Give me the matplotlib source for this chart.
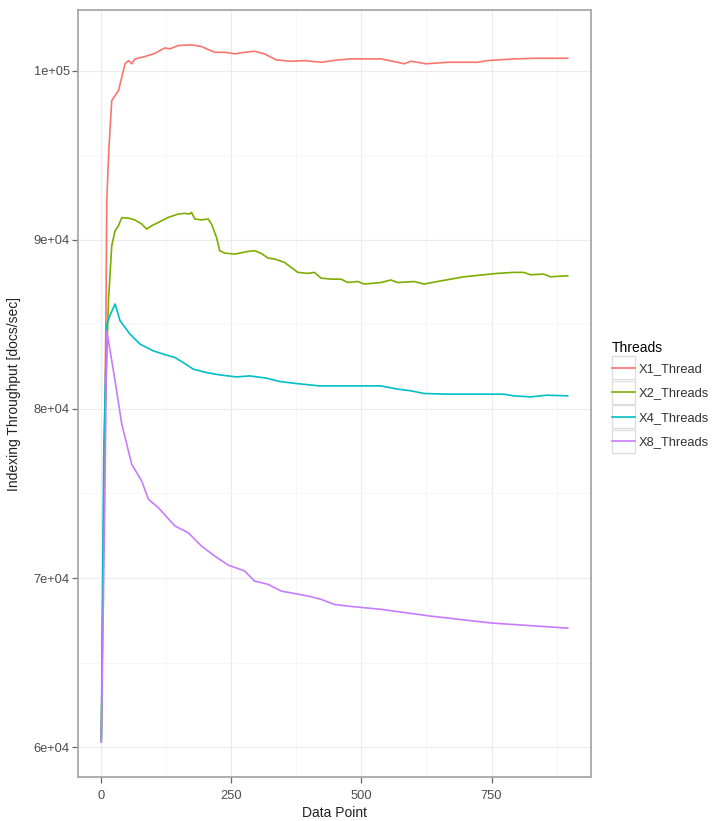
import matplotlib
matplotlib.use("Agg")
import matplotlib.pyplot as plt
from matplotlib.lines import Line2D
from matplotlib.patches import Rectangle
from matplotlib.legend_handler import HandlerLine2D

plt.rcParams["font.family"] = ["Liberation Sans", "DejaVu Sans"]

# values
x1_x = [1, 5, 10, 11.5, 15.3, 21, 34, 46.5, 53, 59.3, 65.6, 84.8, 103.9, 123, 132.6,
        148.6, 174, 193.2, 218.7, 237.8, 257, 276, 295, 314, 336.7, 365.4, 390.9,
        422.8, 454.8, 480, 537.6, 569.5, 582, 595, 607.8, 623.7, 665, 722.6, 741.7,
        792.6, 837.4, 896]
x1_y = [60300, 72000, 86000, 92300, 95270, 98225, 98820, 100400, 100590, 100400,
        100690, 100830, 101020, 101340, 101280, 101480, 101520, 101420, 101080,
        101080, 100990, 101080, 101140, 100990, 100630, 100550, 100590, 100490,
        100630, 100690, 100690, 100490, 100400, 100550, 100490, 100400, 100490,
        100490, 100590, 100690, 100730, 100730]

x2_x = [1, 7.7, 14.7, 21, 27.4, 33.9, 40.2, 53, 65.6, 78.4, 88, 97.6, 110.4, 129.5,
        148.6, 161.3, 170.8, 174, 180.4, 193.2, 206, 212.4, 222, 228.2, 237.8, 257,
        282.6, 295.2, 308, 320.8, 333.5, 352.6, 365.4, 378.2, 397.4, 410, 422.8, 442,
        461, 474, 493, 505.6, 537.6, 556.7, 569.5, 601.3, 620.4, 646, 671.5, 697,
        729, 760.9, 792.6, 811.8, 824.6, 850, 862.8, 896]
x2_y = [60500, 79300, 86390, 89650, 90530, 90830, 91300, 91280, 91170, 90930, 90630,
        90830, 91020, 91320, 91520, 91560, 91520, 91620, 91230, 91170, 91230, 90930,
        90140, 89350, 89210, 89150, 89310, 89350, 89190, 88920, 88860, 88660, 88360,
        88070, 88010, 88070, 87730, 87670, 87670, 87470, 87530, 87380, 87470, 87620,
        87470, 87530, 87380, 87530, 87670, 87810, 87910, 88010, 88070, 88070, 87930,
        87970, 87810, 87870]

x4_x = [1, 5.7, 11.5, 17.2, 27.4, 36.9, 56, 75.2, 100.8, 120, 142.1, 158.2, 177.3,
        202.8, 228.2, 260.2, 285.6, 317.6, 343, 375, 419.6, 473.9, 537.6, 569.5, 595,
        620.4, 665.2, 729, 773.5, 792.6, 824.6, 856.5, 896]
x4_y = [60400, 77500, 85010, 85500, 86200, 85210, 84420, 83830, 83430, 83240, 83040,
        82740, 82350, 82150, 82010, 81890, 81950, 81820, 81620, 81500, 81360, 81360,
        81360, 81170, 81070, 80910, 80870, 80870, 80870, 80770, 80710, 80810, 80770]

x8_x = [1, 7.7, 11.5, 27.4, 40.2, 59.3, 78.4, 91.3, 110.4, 142.1, 167.8, 193.2, 218.7,
        244.3, 276, 295.2, 320.8, 346.3, 397.4, 422.8, 448.3, 474, 537.6, 633.2, 750,
        896]
x8_y = [60300, 74600, 84620, 81660, 79100, 76730, 75740, 74660, 74160, 73080, 72680,
        71890, 71300, 70770, 70420, 69820, 69630, 69230, 68940, 68740, 68440, 68340,
        68150, 67750, 67340, 67040]

labels = ["X1_Thread", "X2_Threads", "X4_Threads", "X8_Threads"]
colors = ["#F8766D", "#7CAE00", "#00BFC4", "#C77CFF"]

x_ticks = [0, 250, 500, 750]
x_minor = [125, 375, 625, 875]
y_ticks = [60000, 70000, 80000, 90000, 100000]
y_minor = [65000, 75000, 85000, 95000]
y_tick_labels = ["6e+04", "7e+04", "8e+04", "9e+04", "1e+05"]


class BoxedLine(HandlerLine2D):
    # legend key with a light grey box behind the line, like ggplot's theme_bw
    def create_artists(self, legend, orig_handle, xdescent, ydescent, width, height,
                       fontsize, trans):
        arts = super().create_artists(legend, orig_handle, xdescent, ydescent, width,
                                      height, fontsize, trans)
        mid = 0.33 * fontsize  # roughly the middle of the label text
        for a in arts:
            if isinstance(a, Line2D):
                a.set_ydata([mid] * len(a.get_xdata()))
        box_h = 16.5
        box = Rectangle((-xdescent, mid - box_h / 2), width, box_h, facecolor="white",
                        edgecolor="#DDDDDD", lw=0.9, transform=trans)
        return [box] + list(arts)


fig = plt.figure(figsize=(7.2, 8.21), dpi=100)
ax = fig.add_axes([78 / 720, 1 - 777 / 821, (591 - 78) / 720, (777 - 10) / 821])

series = [(x1_x, x1_y), (x2_x, x2_y), (x4_x, x4_y), (x8_x, x8_y)]
for (xs, ys), lab, col in zip(series, labels, colors):
    ax.plot(xs, ys, color=col, lw=1.2, label=lab)

ax.margins(x=0.05, y=0.05)
ax.set_xticks(x_ticks)
ax.set_xticks(x_minor, minor=True)
ax.set_yticks(y_ticks)
ax.set_yticks(y_minor, minor=True)
ax.set_yticklabels(y_tick_labels)

ax.grid(True, which="major", color="#EBEBEB", lw=0.8)
ax.grid(True, which="minor", color="#F5F5F5", lw=0.6)
ax.set_axisbelow(True)
ax.tick_params(which="minor", length=0)
ax.tick_params(axis="both", which="major", length=4, width=0.9, color="#666666",
               labelsize=9.3, labelcolor="#4D4D4D")
ax.tick_params(axis="y", pad=2)
ax.tick_params(axis="x", pad=5.5)
for s in ax.spines.values():
    s.set_color("#A8A8A8")
    s.set_linewidth(1.3)

ax.set_xlabel("Data Point", fontsize=10, color="#222222", labelpad=3)
ax.set_ylabel("Indexing Throughput [docs/sec]", fontsize=10, color="#222222", labelpad=9)

handles = [Line2D([], [], color=c, lw=1.2) for c in colors]
leg = ax.legend(handles, labels, title="Threads", loc="upper left",
                bbox_to_anchor=(612 / 720, 1 - 341 / 821), bbox_transform=fig.transFigure,
                frameon=False, fontsize=9.3, title_fontsize=10, handlelength=1.78,
                handleheight=2.36, handletextpad=0.31, labelspacing=0.116,
                borderaxespad=0, borderpad=0,
                handler_map={Line2D: BoxedLine()})
leg._legend_box.align = "left"
for t in leg.get_texts():
    t.set_color("#333333")

fig.savefig("out.png", dpi=100)
